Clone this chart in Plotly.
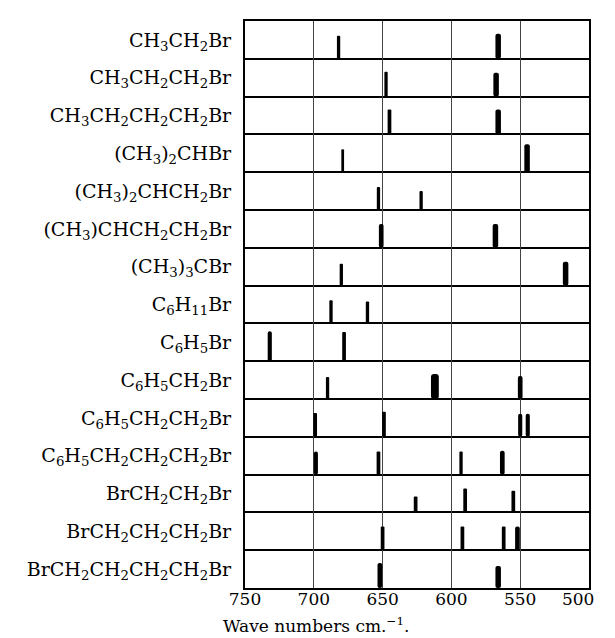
import plotly.graph_objects as go

compounds = [
    "CH<sub>3</sub>CH<sub>2</sub>Br",
    "CH<sub>3</sub>CH<sub>2</sub>CH<sub>2</sub>Br",
    "CH<sub>3</sub>CH<sub>2</sub>CH<sub>2</sub>CH<sub>2</sub>Br",
    "(CH<sub>3</sub>)<sub>2</sub>CHBr",
    "(CH<sub>3</sub>)<sub>2</sub>CHCH<sub>2</sub>Br",
    "(CH<sub>3</sub>)CHCH<sub>2</sub>CH<sub>2</sub>Br",
    "(CH<sub>3</sub>)<sub>3</sub>CBr",
    "C<sub>6</sub>H<sub>11</sub>Br",
    "C<sub>6</sub>H<sub>5</sub>Br",
    "C<sub>6</sub>H<sub>5</sub>CH<sub>2</sub>Br",
    "C<sub>6</sub>H<sub>5</sub>CH<sub>2</sub>CH<sub>2</sub>Br",
    "C<sub>6</sub>H<sub>5</sub>CH<sub>2</sub>CH<sub>2</sub>CH<sub>2</sub>Br",
    "BrCH<sub>2</sub>CH<sub>2</sub>Br",
    "BrCH<sub>2</sub>CH<sub>2</sub>CH<sub>2</sub>Br",
    "BrCH<sub>2</sub>CH<sub>2</sub>CH<sub>2</sub>CH<sub>2</sub>Br",
]

# band positions (cm^-1) per compound
wavenumbers = [
    [682, 566],
    [647.5, 567.5],
    [645, 566],
    [679, 545],
    [653, 622],
    [651, 568],
    [680, 517],
    [687.5, 661],
    [732, 678],
    [690, 612, 550],
    [699, 649, 550, 544.5],
    [698.5, 653, 593, 563],
    [626, 590, 555],
    [650, 592, 562, 552],
    [652, 566],
]

# relative intensity (fraction of row height)
intensities = [
    [0.61, 0.66],
    [0.66, 0.63],
    [0.66, 0.66],
    [0.61, 0.74],
    [0.61, 0.50],
    [0.63, 0.63],
    [0.58, 0.63],
    [0.61, 0.58],
    [0.79, 0.77],
    [0.58, 0.66, 0.61],
    [0.63, 0.66, 0.61, 0.61],
    [0.61, 0.61, 0.61, 0.63],
    [0.42, 0.63, 0.57],
    [0.63, 0.63, 0.63, 0.63],
    [0.66, 0.58],
]

# band breadth (cm^-1)
breadths = [
    [2.4, 4.0],
    [2.4, 4.0],
    [2.7, 4.0],
    [2.0, 4.0],
    [2.4, 2.4],
    [3.4, 4.0],
    [2.4, 4.0],
    [2.4, 2.4],
    [3.0, 2.7],
    [2.4, 5.7, 3.4],
    [2.7, 2.7, 3.0, 3.0],
    [3.0, 2.7, 2.4, 3.4],
    [2.7, 2.7, 2.7],
    [2.7, 2.7, 2.7, 3.4],
    [3.4, 4.0],
]

x_ticks = [750, 700, 650, 600, 550, 500]
x_ticktext = ["750", "700", "650", "600", "550", "500\u00a0\u00a0\u00a0\u00a0"]

n = len(compounds)
xs, ys, bases, ws = [], [], [], []
for i in range(n):
    row_bottom = n - 1 - i
    for wn, h, b in zip(wavenumbers[i], intensities[i], breadths[i]):
        xs.append(wn)
        ys.append(h)
        bases.append(row_bottom)
        ws.append(b)

fig = go.Figure(go.Bar(
    x=xs, y=ys, base=bases, width=ws,
    marker=dict(color="black", line=dict(width=0), cornerradius="50%"),
    hoverinfo="skip",
))

serif = "DejaVu Serif"
fig.update_layout(
    width=615, height=638,
    margin=dict(l=237, r=7, t=13, b=58),
    plot_bgcolor="white", paper_bgcolor="white",
    showlegend=False, barmode="overlay",
    font=dict(family=serif, color="black"),
)
fig.update_xaxes(
    range=[750, 500], tickvals=x_ticks, ticktext=x_ticktext,
    showgrid=True, gridcolor="#444", gridwidth=1, zeroline=False,
    showline=True, linecolor="black", linewidth=2, mirror=True,
    ticks="", tickfont=dict(size=17, family=serif), ticklabelstandoff=-5,
    ticklabeloverflow="allow",
)
fig.update_yaxes(
    range=[0, n], tickvals=[n - 0.5 - i for i in range(n)], ticktext=compounds,
    showgrid=False, zeroline=False,
    showline=True, linecolor="black", linewidth=2, mirror=True,
    ticks="", tickfont=dict(size=19, family=serif), ticklabelstandoff=8,
    minor=dict(tickvals=list(range(1, n)), showgrid=True, gridcolor="black",
               gridwidth=1.5, ticks=""),
)
fig.add_annotation(
    text="Wave numbers cm.<sup>−1</sup>.", xref="paper", yref="paper",
    x=0.207, y=-0.066, xanchor="center", yanchor="middle", showarrow=False,
    font=dict(size=17, family=serif, color="black"),
)
fig.write_html("out.html")
